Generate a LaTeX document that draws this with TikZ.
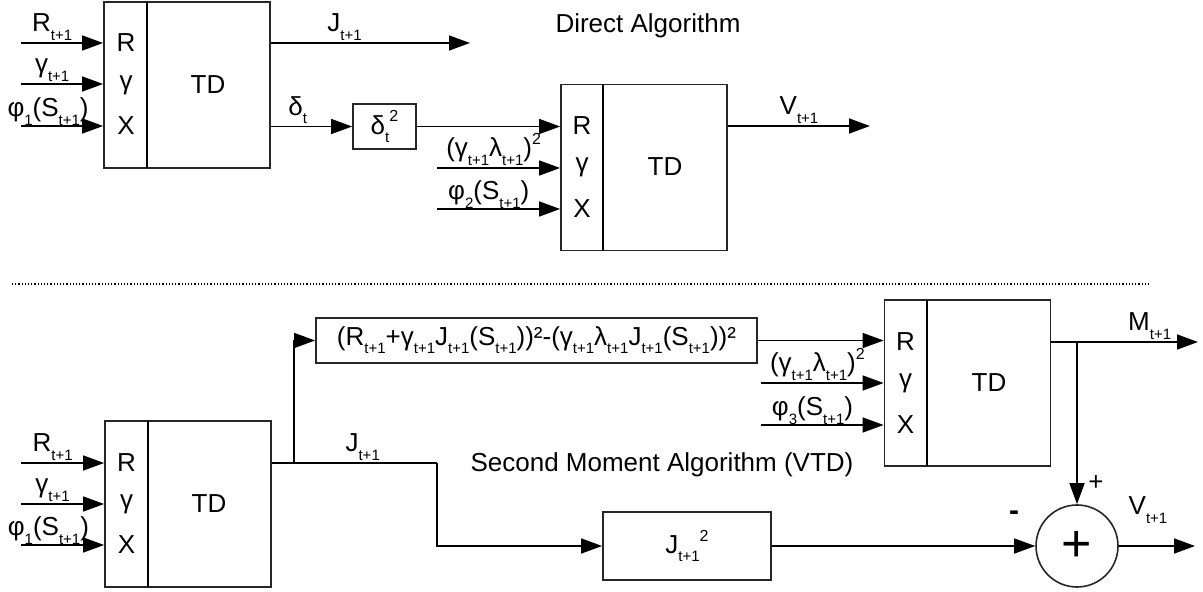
\documentclass[tikz,border=0pt]{standalone}
\usepackage{fontspec}
\setmainfont{Liberation Sans}
\usetikzlibrary{positioning,arrows.meta}
\newcommand{\tsub}[1]{\raisebox{-0.6ex}{\fontsize{7.5}{8}\selectfont #1}}
\newcommand{\tsup}[1]{\raisebox{0.9ex}{\fontsize{8}{8}\selectfont #1}}
\tikzset{%
  sig/.style = {-{Triangle[length=10.5pt,width=7.5pt]},line width=0.75pt},
  wire/.style = {line width=0.75pt},
  td/.style = {rectangle,draw=black!85,line width=0.9pt,minimum width=83pt,
        minimum height=83pt,inner sep=0pt},
  b/.style = {rectangle,draw=black!85,line width=0.9pt,inner sep=0pt},
  lbl/.style = {inner sep=1pt},
  sum/.style = {circle,draw=black!85,line width=0.8pt,minimum size=41pt,
        inner sep=0pt}
}
\begin{document}
\begin{tikzpicture}[x=0.5pt,y=-0.5pt,font=\fontsize{13}{15}\selectfont]
\useasboundingbox (0,0) rectangle (1203,592);
% direct algorithm
\node[td] (td1) at (187,85) {};
\draw[line width=0.6pt] (147,2) -- (147,168);
\node (td1r) at (126,43) {R};
\node (td1g) at (126,85) {γ};
\node (td1x) at (126,126) {X};
\node (td1t) at (208,85) {TD};
\coordinate (a1) at (21,43);
\coordinate (a2) at (21,84);
\coordinate (a3) at (21,126);
\draw[sig] (a1) -- node[lbl,above,pos=0.38] (la1) {R\tsub{t+1}} (td1.west |- a1);
\draw[sig] (a2) -- node[lbl,above,pos=0.38] (la2) {γ\tsub{t+1}} (td1.west |- a2);
\draw[sig] (a3) -- node[inner sep=0pt,above,pos=0.33] (la3) {φ\tsub{1}(S\tsub{t+1})} (td1.west |- a3);
\coordinate (jout) at (470,43);
\draw[sig] (td1.east |- jout) -- node[lbl,above,pos=0.37] (lj1) {J\tsub{t+1}} (jout);
\node[b,minimum width=31.5pt,minimum height=22.5pt] (dsq) at (384.5,126.5) {δ\tsub{t}\tsup{2}};
\draw[sig] (td1.east |- dsq) -- node[lbl,above,pos=0.33] (ld) {δ\tsub{t}} (dsq);
\node[td] (td2) at (644,167.5) {};
\draw[line width=0.6pt] (603,84) -- (603,251);
\node (td2r) at (582,126) {R};
\node (td2g) at (582,167) {γ};
\node (td2x) at (582,209) {X};
\node (td2t) at (665,167) {TD};
\draw[sig] (dsq) -- (td2.west |- dsq);
\coordinate (b2) at (437,168);
\coordinate (b3) at (437,209);
\draw[sig] (b2) -- node[lbl,above,pos=0.46] (lb2) {(γ\tsub{t+1}λ\tsub{t+1})\tsup{2}} (td2.west |- b2);
\draw[sig] (b3) -- node[inner sep=0pt,above,pos=0.42] (lb3) {φ\tsub{2}(S\tsub{t+1})} (td2.west |- b3);
\coordinate (vout) at (870,126);
\draw[sig] (td2.east |- vout) -- node[lbl,above] (lv1) {V\tsub{t+1}} (vout);
\node (ttl1) at (648,26) {Direct Algorithm};
% separator
\coordinate (s1) at (12,284);
\coordinate (s2) at (1150,284);
\draw[densely dotted,line width=0.6pt] (s1) -- (s2);
% second moment algorithm
\node[td] (td3) at (188,504) {};
\draw[line width=0.6pt] (148,421) -- (148,587);
\node (td3r) at (126.5,463) {R};
\node (td3g) at (126.5,504) {γ};
\node (td3x) at (126.5,545) {X};
\node (td3t) at (209,504) {TD};
\coordinate (c1) at (21,463);
\coordinate (c2) at (21,504);
\coordinate (c3) at (21,545);
\draw[sig] (c1) -- node[lbl,above,pos=0.38] (lc1) {R\tsub{t+1}} (td3.west |- c1);
\draw[sig] (c2) -- node[lbl,above,pos=0.38] (lc2) {γ\tsub{t+1}} (td3.west |- c2);
\draw[sig] (c3) -- node[inner sep=0pt,above,pos=0.33] (lc3) {φ\tsub{1}(S\tsub{t+1})} (td3.west |- c3);
\node[b,minimum width=220.5pt,minimum height=22.5pt] (big) at (536.5,340.5)
  {(R\tsub{t+1}+γ\tsub{t+1}J\tsub{t+1}(S\tsub{t+1}))²-(γ\tsub{t+1}λ\tsub{t+1}J\tsub{t+1}(S\tsub{t+1}))²};
\node[b,minimum width=84pt,minimum height=34pt] (jsq) at (687,546) {J\tsub{t+1}\tsup{2}};
\coordinate (br) at (294,463);
\coordinate (jc) at (437,463);
\draw[wire] (td3.east |- br) -- node[lbl,above,pos=0.55] (lj2) {J\tsub{t+1}} (jc);
\draw[sig] (jc) |- (jsq);
\draw[sig] (br) |- (big.west);
\node[td] (td4) at (967.5,383) {};
\draw[line width=0.6pt] (927,300) -- (927,466);
\node (td4r) at (905.5,342) {R};
\node (td4g) at (905.5,383) {γ};
\node (td4x) at (905.5,425) {X};
\node (td4t) at (989,383) {TD};
\draw[sig] (big) -- (td4.west |- big);
\coordinate (d2) at (761,383);
\coordinate (d3) at (761,425);
\draw[sig] (d2) -- node[lbl,above,pos=0.46] (ld2) {(γ\tsub{t+1}λ\tsub{t+1})\tsup{2}} (td4.west |- d2);
\draw[sig] (d3) -- node[inner sep=0pt,above,pos=0.42] (ld3) {φ\tsub{3}(S\tsub{t+1})} (td4.west |- d3);
\coordinate (mout) at (1198,342);
\coordinate (mbr) at (1077,342);
\draw[sig] (td4.east |- mout) -- node[lbl,above,pos=0.67] (lm) {M\tsub{t+1}} (mout);
\node[sum,font=\fontsize{26}{26}\selectfont] (sum) at (1077,546) {+};
\draw[sig] (mbr) -- (sum.north);
\draw[sig] (jsq) -- (sum.west);
\coordinate (vend) at (1195,546);
\draw[sig] (sum.east) -- (vend);
\node (plus) at (1096,483) {+};
\node[font=\fontsize{15}{15}\selectfont\bfseries] (minus) at (1014,516) {-};
\node (lv2) at (1148,510) {V\tsub{t+1}};
\node (ttl2) at (662,465) {Second Moment Algorithm (VTD)};
\end{tikzpicture}
\end{document}
